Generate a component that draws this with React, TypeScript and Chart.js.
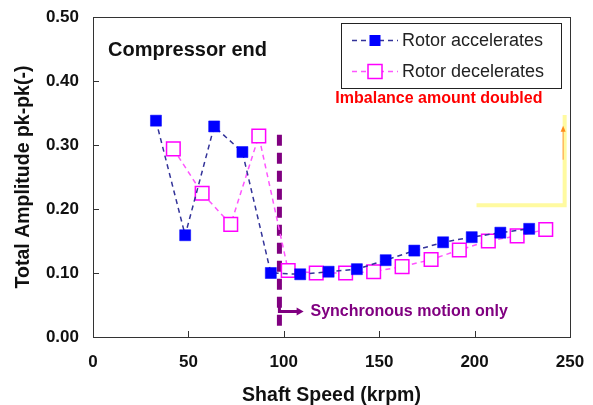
import React, { useEffect, useRef } from "react";
import { Chart, registerables } from "chart.js";

Chart.register(...registerables);

const FONT = "'Liberation Sans', Arial, Helvetica, sans-serif";

// Run-up: shaft speed (krpm) and total pk-pk amplitude
const accelSpeed = [33, 48.3, 63.5, 78.3, 93.2, 108.6, 123.5, 138.3, 153.4, 168.4, 183.5, 198.5, 213.5, 228.6];
const accelAmp = [0.338, 0.159, 0.329, 0.289, 0.1, 0.098, 0.102, 0.106, 0.12, 0.135, 0.148, 0.156, 0.163, 0.169];

// Run-down: shaft speed (krpm) and total pk-pk amplitude
const decelSpeed = [42.1, 57.2, 72.2, 86.9, 102.3, 117, 132.4, 147.1, 162, 177.2, 192, 207.2, 222.3, 237.3];
const decelAmp = [0.294, 0.2245, 0.176, 0.314, 0.104, 0.1, 0.1, 0.102, 0.11, 0.121, 0.136, 0.15, 0.158, 0.168];

// Speed above which only synchronous motion remains
const syncSpeed = [97.7, 97.7];
const syncAmp = [0.316, 0.009];

const xTicks = [0, 50, 100, 150, 200, 250];
const yTicks = [0, 0.1, 0.2, 0.3, 0.4, 0.5];

const seriesNames = ["Rotor accelerates", "Rotor decelerates"];
const panelTitle = "Compressor end";
const imbalanceNote = "Imbalance amount doubled";
const syncNote = "Synchronous motion only";

const ACCEL_LINE = "#333399";
const ACCEL_MARK = "#0000ff";
const DECEL_LINE = "#ff55ff";
const DECEL_MARK = "#ff00ff";
const SYNC = "#800080";

const toPoints = (xs: number[], ys: number[]) => xs.map((x, i) => ({ x, y: ys[i] }));

const decorations = {
  id: "decorations",
  beforeDatasetsDraw(chart: any) {
    const { ctx, chartArea: ca, scales } = chart;
    const xs = scales.x;
    const ys = scales.y;
    ctx.save();

    // light yellow frame fragment and small orange arrow at the right edge
    ctx.strokeStyle = "#fffaa0";
    ctx.lineWidth = 4;
    ctx.beginPath();
    ctx.moveTo(xs.getPixelForValue(201), ys.getPixelForValue(0.206));
    ctx.lineTo(xs.getPixelForValue(247.2), ys.getPixelForValue(0.206));
    ctx.lineTo(xs.getPixelForValue(247.2), ys.getPixelForValue(0.347));
    ctx.stroke();

    const ax = xs.getPixelForValue(246.4);
    const aTop = ys.getPixelForValue(0.33);
    ctx.strokeStyle = "#ff9a3c";
    ctx.lineWidth = 1;
    ctx.beginPath();
    ctx.moveTo(ax, ys.getPixelForValue(0.277));
    ctx.lineTo(ax, aTop + 4);
    ctx.stroke();
    ctx.fillStyle = "#ff8c1a";
    ctx.beginPath();
    ctx.moveTo(ax, aTop);
    ctx.lineTo(ax - 2.5, aTop + 6);
    ctx.lineTo(ax + 2.5, aTop + 6);
    ctx.closePath();
    ctx.fill();

    // plot frame with inward tick marks
    ctx.strokeStyle = "#333333";
    ctx.lineWidth = 1;
    ctx.strokeRect(
      Math.round(ca.left) + 0.5,
      Math.round(ca.top) + 0.5,
      Math.round(ca.right - ca.left),
      Math.round(ca.bottom - ca.top)
    );
    ctx.beginPath();
    for (const t of ys.ticks) {
      if (t.value <= ys.min || t.value >= ys.max) continue;
      const y = Math.round(ys.getPixelForValue(t.value)) + 0.5;
      ctx.moveTo(ca.left, y);
      ctx.lineTo(ca.left + 6, y);
    }
    for (const t of xs.ticks) {
      if (t.value <= xs.min || t.value >= xs.max) continue;
      const x = Math.round(xs.getPixelForValue(t.value)) + 0.5;
      ctx.moveTo(x, ca.bottom);
      ctx.lineTo(x, ca.bottom - 6);
    }
    ctx.stroke();
    ctx.restore();
  },
  afterDatasetsDraw(chart: any) {
    const { ctx, chartArea: ca, scales } = chart;
    const xs = scales.x;
    const ys = scales.y;
    ctx.save();

    // panel title
    ctx.fillStyle = "#111111";
    ctx.font = `bold 20px ${FONT}`;
    ctx.textAlign = "left";
    ctx.textBaseline = "middle";
    ctx.fillText(panelTitle, xs.getPixelForValue(7.9), ys.getPixelForValue(0.447));

    // imbalance note
    ctx.fillStyle = "#ff0000";
    ctx.font = `bold 16px ${FONT}`;
    ctx.textAlign = "center";
    ctx.fillText(imbalanceNote, xs.getPixelForValue(181.3), ys.getPixelForValue(0.3727));

    // synchronous-motion pointer
    const sx = xs.getPixelForValue(syncSpeed[0]);
    const sy = ys.getPixelForValue(0.04);
    const tipX = xs.getPixelForValue(110.4);
    ctx.strokeStyle = SYNC;
    ctx.fillStyle = SYNC;
    ctx.lineWidth = 3;
    ctx.beginPath();
    ctx.moveTo(sx, ys.getPixelForValue(0.054));
    ctx.lineTo(sx, sy);
    ctx.lineTo(tipX - 6, sy);
    ctx.stroke();
    ctx.beginPath();
    ctx.moveTo(tipX, sy);
    ctx.lineTo(tipX - 7, sy - 4);
    ctx.lineTo(tipX - 7, sy + 4);
    ctx.closePath();
    ctx.fill();
    ctx.font = `bold 16px ${FONT}`;
    ctx.textAlign = "left";
    ctx.fillText(syncNote, xs.getPixelForValue(114), sy);

    // legend box
    const bx = ca.left + 248;
    const by = ca.top + 6;
    const bw = 220;
    const bh = 65;
    ctx.fillStyle = "#ffffff";
    ctx.fillRect(bx, by, bw, bh);
    ctx.strokeStyle = "#222222";
    ctx.lineWidth = 1;
    ctx.strokeRect(Math.round(bx) + 0.5, Math.round(by) + 0.5, bw, bh);

    const rows = [
      { name: seriesNames[0], line: ACCEL_LINE, y: by + 17.5 },
      { name: seriesNames[1], line: DECEL_LINE, y: by + 48.5 },
    ];
    rows.forEach((r, i) => {
      const cx = bx + 34;
      ctx.strokeStyle = r.line;
      ctx.lineWidth = 1.5;
      ctx.setLineDash([5, 4]);
      ctx.beginPath();
      ctx.moveTo(bx + 11, r.y);
      ctx.lineTo(bx + 57, r.y);
      ctx.stroke();
      ctx.setLineDash([]);
      if (i === 0) {
        ctx.fillStyle = ACCEL_MARK;
        ctx.fillRect(cx - 5.5, r.y - 5.5, 11, 11);
      } else {
        ctx.fillStyle = "#ffffff";
        ctx.fillRect(cx - 7, r.y - 7, 14, 14);
        ctx.strokeStyle = DECEL_MARK;
        ctx.lineWidth = 1.5;
        ctx.strokeRect(cx - 7, r.y - 7, 14, 14);
      }
      ctx.fillStyle = "#222222";
      ctx.font = `18px ${FONT}`;
      ctx.textAlign = "left";
      ctx.textBaseline = "middle";
      ctx.fillText(r.name, bx + 61, r.y + 1);
    });
    ctx.restore();
  },
};

export default function App() {
  const canvasRef = useRef<HTMLCanvasElement | null>(null);

  useEffect(() => {
    document.body.style.margin = "0";
    const canvas = canvasRef.current;
    if (!canvas) return;

    const chart = new Chart(canvas, {
      type: "line",
      data: {
        datasets: [
          {
            label: seriesNames[0],
            data: toPoints(accelSpeed, accelAmp),
            borderColor: ACCEL_LINE,
            borderWidth: 1.5,
            borderDash: [5, 4],
            pointStyle: "rect",
            pointRadius: 7.8,
            pointHoverRadius: 7.8,
            pointBackgroundColor: ACCEL_MARK,
            pointBorderColor: ACCEL_MARK,
            pointBorderWidth: 0.5,
            fill: false,
            tension: 0,
          },
          {
            label: seriesNames[1],
            data: toPoints(decelSpeed, decelAmp),
            borderColor: DECEL_LINE,
            borderWidth: 1.5,
            borderDash: [5, 4],
            pointStyle: "rect",
            pointRadius: 9.6,
            pointHoverRadius: 9.6,
            pointBackgroundColor: "#ffffff",
            pointBorderColor: DECEL_MARK,
            pointBorderWidth: 1.5,
            fill: false,
            tension: 0,
          },
          {
            label: "sync",
            data: toPoints(syncSpeed, syncAmp),
            borderColor: SYNC,
            borderWidth: 5,
            borderDash: [11, 7],
            pointRadius: 0,
            fill: false,
          },
        ],
      },
      options: {
        animation: false,
        responsive: true,
        maintainAspectRatio: false,
        events: [],
        layout: { padding: { top: 17, right: 23, left: 0, bottom: 0 } },
        plugins: {
          legend: { display: false },
          tooltip: { enabled: false },
          title: { display: false },
        },
        scales: {
          x: {
            type: "linear",
            position: "bottom",
            min: xTicks[0],
            max: xTicks[xTicks.length - 1],
            afterBuildTicks: (s: any) => {
              s.ticks = xTicks.map((v) => ({ value: v }));
            },
            afterFit: (s: any) => {
              s.height = 68;
              s.paddingLeft = 0;
              s.paddingRight = 0;
            },
            grid: { display: false, drawTicks: false },
            border: { display: false },
            ticks: {
              padding: 15,
              color: "#111111",
              font: { family: FONT, size: 17, weight: "bold" },
              callback: (v: any) => String(v),
              maxRotation: 0,
            },
            title: {
              display: true,
              text: "Shaft Speed (krpm)",
              color: "#111111",
              font: { family: FONT, size: 19.5, weight: "bold", lineHeight: 1 },
              padding: { top: 0, bottom: 0 },
            },
          },
          y: {
            type: "linear",
            position: "left",
            min: yTicks[0],
            max: yTicks[yTicks.length - 1],
            afterBuildTicks: (s: any) => {
              s.ticks = yTicks.map((v) => ({ value: v }));
            },
            afterFit: (s: any) => {
              s.width = 93;
              s.paddingTop = 0;
              s.paddingBottom = 0;
            },
            grid: { display: false, drawTicks: false },
            border: { display: false },
            ticks: {
              padding: 14,
              color: "#111111",
              font: { family: FONT, size: 17, weight: "bold" },
              callback: (v: any) => Number(v).toFixed(2),
            },
            title: {
              display: true,
              text: "Total Amplitude pk-pk(-)",
              color: "#111111",
              font: { family: FONT, size: 19.5, weight: "bold", lineHeight: 1 },
              padding: { top: 14, bottom: 0 },
            },
          },
        },
      },
      plugins: [decorations],
    });

    return () => chart.destroy();
  }, []);

  return (
    <div style={{ position: "relative", width: 593, height: 405, background: "#ffffff" }}>
      <canvas ref={canvasRef} />
    </div>
  );
}
